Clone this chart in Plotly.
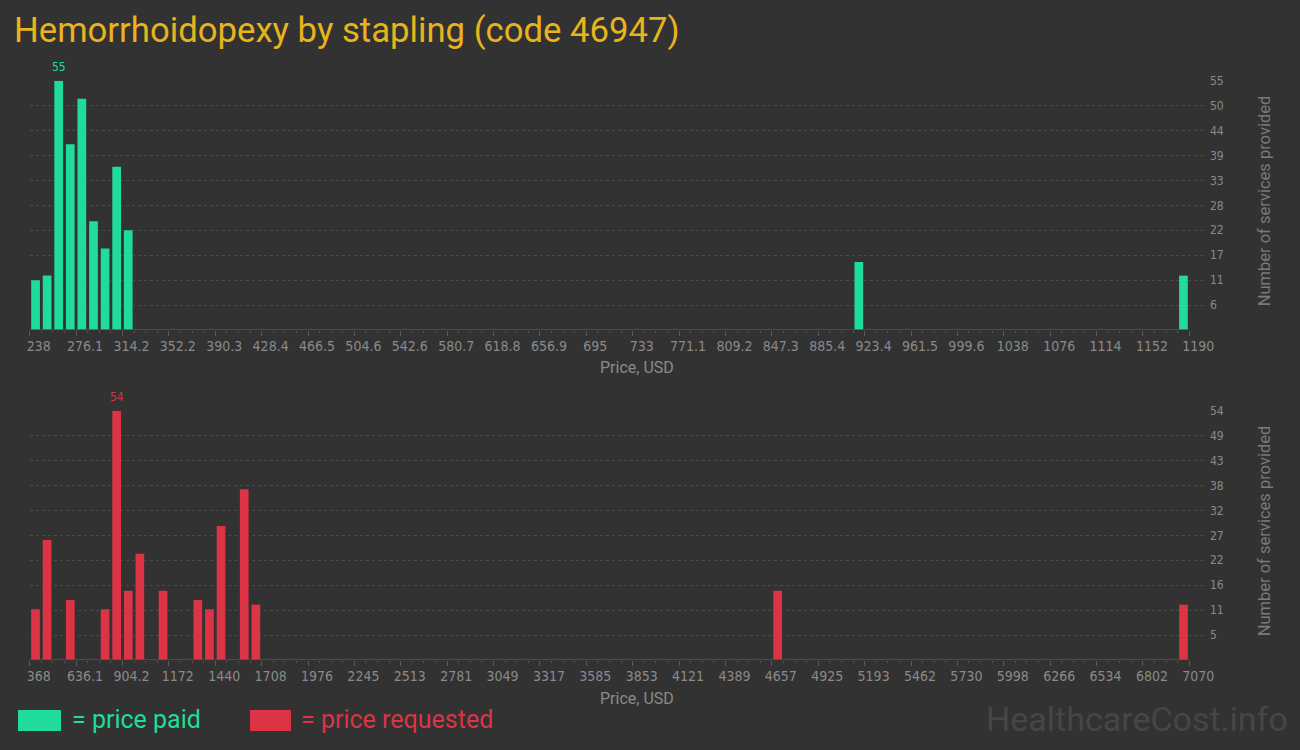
import numpy as np
import plotly.graph_objects as go

# ---------------- data ----------------
title_text = "Hemorrhoidopexy by stapling (code 46947)"

# price paid histogram (bin centers in USD, counts)
paid_price = [242.8, 252.3, 261.8, 271.3, 280.8, 290.4, 299.9, 309.4, 318.9, 918.7, 1185.2]
paid_count = [11, 12, 55, 41, 51, 24, 18, 36, 22, 15, 12]
paid_range = [238, 1190]
paid_ticks = ["238", "276.1", "314.2", "352.2", "390.3", "428.4", "466.5", "504.6", "542.6",
              "580.7", "618.8", "656.9", "695", "733", "771.1", "809.2", "847.3", "885.4",
              "923.4", "961.5", "999.6", "1038", "1076", "1114", "1152", "1190"]

# price requested histogram
req_price = [401.5, 468.5, 602.6, 803.6, 870.7, 937.7, 1004.7, 1138.7, 1339.8, 1406.8,
             1473.9, 1607.9, 1675.0, 4690.8, 7036.5]
req_count = [11, 26, 13, 11, 54, 15, 23, 15, 13, 11, 29, 37, 12, 15, 12]
req_range = [368, 7070]
req_ticks = ["368", "636.1", "904.2", "1172", "1440", "1708", "1976", "2245", "2513", "2781",
             "3049", "3317", "3585", "3853", "4121", "4389", "4657", "4925", "5193", "5462",
             "5730", "5998", "6266", "6534", "6802", "7070"]

n_bins = 100

# ---------------- style ----------------
W, H = 1300, 750
BG = "#323232"
GREEN = "#20dc9b"
RED = "#dc3444"
GOLD = "#e8b41c"
GREY = "#8a8a8a"
GRID = "#4a4a4a"
NARROW = "Liberation Sans Narrow, DejaVu Sans Condensed, Arial Narrow, sans-serif"
ROBOTO = "Roboto, Noto Sans, sans-serif"

AX_L, AX_R, PLOT_R = 29.7, 1189.3, 1206.0   # pixel x of axis start/end and plot right edge


def px(x):
    return x / W


def py(y):
    return 1 - y / H


fig = go.Figure()

panels = [
    dict(price=paid_price, count=paid_count, rng=paid_range, ticks=paid_ticks, color=GREEN,
         xa="x", ya="y", top=80.7, bottom=330.0),
    dict(price=req_price, count=req_count, rng=req_range, ticks=req_ticks, color=RED,
         xa="x2", ya="y2", top=410.7, bottom=660.0),
]

annotations = []
shapes = []
for i, p in enumerate(panels):
    lo, hi = p["rng"]
    bw = (hi - lo) / n_bins
    xmax = lo + (hi - lo) * (PLOT_R - AX_L) / (AX_R - AX_L)
    ymax = max(p["count"])

    fig.add_trace(go.Bar(x=p["price"], y=p["count"], width=bw * 0.75,
                         marker=dict(color=p["color"], line=dict(width=0)),
                         xaxis=p["xa"], yaxis=p["ya"], showlegend=False,
                         hoverinfo="x+y"))

    sfx = "" if i == 0 else "2"
    tickvals = np.linspace(lo, hi, len(p["ticks"]))
    fig.update_layout(**{
        "xaxis" + sfx: dict(
            domain=[px(AX_L), px(PLOT_R)], range=[lo, xmax], anchor="y" + sfx,
            automargin=False,
            showgrid=False, zeroline=False, showline=False,
            tickmode="array", tickvals=tickvals, ticktext=p["ticks"],
            ticks="outside", ticklen=5, tickcolor="#5a5a5a", tickwidth=1,
            ticklabelshift=9, ticklabelstandoff=-2,
            tickfont=dict(family=NARROW, size=14, color=GREY),
            minor=dict(tickmode="array", tickvals=[lo + bw * k for k in range(n_bins + 1)],
                       ticks="outside", ticklen=2, tickcolor="#555555", showgrid=False),
            fixedrange=True,
        ),
        "yaxis" + sfx: dict(
            domain=[py(p["bottom"]), py(p["top"])], range=[0, ymax], anchor="x" + sfx,
            automargin=False,
            side="right", showline=False, zeroline=False,
            tickmode="array", tickvals=[ymax * k / 10 for k in range(1, 11)],
            ticktext=[str(int(np.floor(ymax * k / 10 + 0.5))) for k in range(1, 11)],
            ticks="", showgrid=True, gridcolor=GRID, griddash="3px,3px", gridwidth=1,
            tickfont=dict(family=NARROW, size=12, color=GREY),
            ticklabelstandoff=3,
            fixedrange=True,
        ),
    })

    # baseline of the x axis
    shapes.append(dict(type="line", xref=p["xa"], yref=p["ya"], x0=lo, x1=hi, y0=0, y1=0,
                       line=dict(color="#555555", width=1.5)))

    # max value label
    imax = int(np.argmax(p["count"]))
    annotations.append(dict(x=p["price"][imax], y=ymax, xref=p["xa"], yref=p["ya"],
                            text=str(ymax), showarrow=False, yanchor="bottom", yshift=5,
                            font=dict(family=NARROW, size=12, color=p["color"])))

    # axis titles
    annotations.append(dict(x=px(637), y=py(p["bottom"] + 38), xref="paper", yref="paper",
                            text="Price, USD", showarrow=False, xanchor="center", yanchor="middle",
                            font=dict(family=ROBOTO, size=16, color=GREY)))
    annotations.append(dict(x=px(1264), y=py((p["top"] + p["bottom"]) / 2 - 4), xref="paper",
                            yref="paper", text="Number of services provided", showarrow=False,
                            textangle=-90, xanchor="center", yanchor="middle",
                            font=dict(family=ROBOTO, size=16.5, color="#7a7a7a")))

# title
annotations.append(dict(x=px(12), y=py(30), xref="paper", yref="paper", text=title_text,
                        showarrow=False, xanchor="left", yanchor="middle",
                        font=dict(family=ROBOTO, size=34.7, color=GOLD)))

# legend
legend_items = [("= price paid", GREEN, 18, 61, 70), ("= price requested", RED, 250, 291, 299)]
for txt, col, x0, x1, tx in legend_items:
    shapes.append(dict(type="rect", xref="paper", yref="paper", x0=px(x0), x1=px(x1),
                       y0=py(731), y1=py(710), fillcolor=col, line=dict(width=0)))
    annotations.append(dict(x=px(tx), y=py(719), xref="paper", yref="paper", text=txt,
                            showarrow=False, xanchor="left", yanchor="middle",
                            font=dict(family=ROBOTO, size=25, color=col)))

# watermark
annotations.append(dict(x=px(1290), y=py(719), xref="paper", yref="paper",
                        text="HealthcareCost.info", showarrow=False, xanchor="right",
                        yanchor="middle", font=dict(family=ROBOTO, size=34, color="#464646")))

fig.update_layout(
    width=W, height=H, autosize=False,
    margin=dict(l=0, r=0, t=0, b=0, autoexpand=False),
    paper_bgcolor=BG, plot_bgcolor=BG,
    bargap=0.25,
    annotations=annotations, shapes=shapes,
    showlegend=False,
)

fig.write_html("out.html", config={"displayModeBar": False},
               post_script="document.body.style.margin='0';document.body.style.background='#323232';")
